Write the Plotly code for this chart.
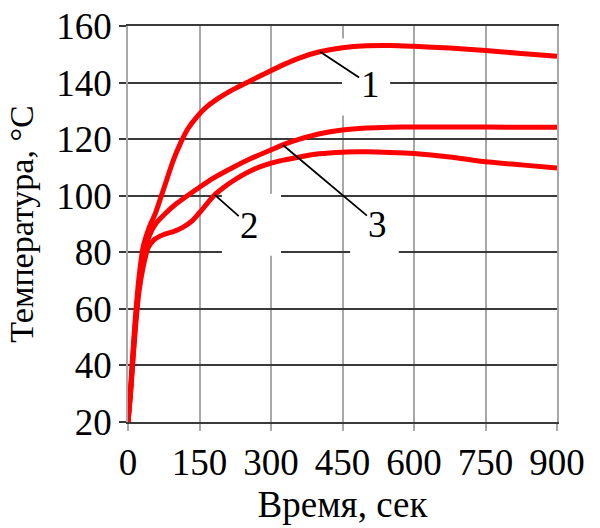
import numpy as np
import plotly.graph_objects as go

# Время, сек / Температура, °С for three heating curves
t_1 = [0, 5, 10, 16, 23, 32, 45, 58, 70, 82, 95, 110, 125, 145, 165, 190, 220, 255,
       290, 330, 365, 400, 450, 500, 550, 600, 675, 750, 825, 900]
temp_1 = [20, 31, 44, 58, 71, 82, 89, 94, 100, 106, 112.5, 118.5, 123.5, 128, 131.4,
          134.5, 137.5, 140.5, 143.4, 146.6, 149.0, 150.8, 152.3, 153.0, 153.1, 152.8,
          152.2, 151.3, 150.3, 149.3]

t_2 = [0, 5, 10, 16, 23, 32, 42, 55, 75, 95, 115, 135, 155, 180, 200, 220, 260, 300,
       330, 360, 400, 450, 500, 550, 600, 675, 750, 825, 900]
temp_2 = [20, 29, 41, 54, 66, 75, 81.5, 84.5, 86.3, 87.3, 88.8, 91.2, 95, 100, 102.8,
          105.2, 109, 111.5, 112.7, 113.7, 114.8, 115.4, 115.5, 115.3, 114.9, 113.7,
          112, 110.9, 109.8]

t_3 = [0, 5, 10, 16, 23, 32, 45, 60, 80, 100, 123, 150, 180, 220, 260, 300, 330, 360,
       400, 450, 500, 550, 600, 700, 800, 900]
temp_3 = [20, 30, 42, 56, 68, 77, 86, 90.5, 94, 97, 99.8, 103, 106.3, 110, 113.3,
          116.2, 118.3, 120, 121.8, 123.2, 123.9, 124.2, 124.3, 124.3, 124.2, 124.2]

x_ticks = [0, 150, 300, 450, 600, 750, 900]
y_ticks = [20, 40, 60, 80, 100, 120, 140, 160]

# curve labels: (text, series, time where the leader touches the curve, offset px)
curve_labels = [
    ("1", (t_1, temp_1), 403, 50, 33),
    ("2", (t_2, temp_2), 182, 35, 31),
    ("3", (t_3, temp_3), 325, 95, 80),
]

FONT = "Liberation Serif"
FS = 37
RED = "#ff0000"
DARK = "#3a3a3a"
GREY = "#a8a8a8"

fig = go.Figure()
for tx, ty in [(t_1, temp_1), (t_3, temp_3), (t_2, temp_2)]:
    fig.add_trace(go.Scatter(
        x=tx, y=ty, mode="lines",
        line=dict(color=RED, width=5, shape="spline", smoothing=0.7),
        showlegend=False, hoverinfo="skip",
    ))

# white patches behind the labels: they hide the grid but stay under the curves
label_boxes = [
    (449, 550, 128.4, 155.6),
    (197, 321, 78.8, 100.7),
    (466, 568, 76.3, 98.3),
]
for x0, x1, y0, y1 in label_boxes:
    fig.add_shape(type="rect", xref="x", yref="y", x0=x0, x1=x1, y0=y0, y1=y1,
                  fillcolor="white", line=dict(width=0), layer="between")

for text, (tx, ty), t_at, dx, dy in curve_labels:
    fig.add_annotation(
        x=t_at, y=float(np.interp(t_at, tx, ty)), xref="x", yref="y",
        text=text, showarrow=True, arrowhead=0, arrowwidth=1.8, arrowcolor="black",
        ax=dx, ay=dy, standoff=0,
        font=dict(family=FONT, size=FS, color="black"),
    )

fig.update_layout(
    width=600, height=528,
    margin=dict(l=128, r=43, t=26, b=106, autoexpand=False),
    paper_bgcolor="white", plot_bgcolor="white",
    font=dict(family=FONT, size=FS, color="black"),
)
fig.update_xaxes(
    range=[0, 900], tickvals=x_ticks, ticktext=[str(v) for v in x_ticks],
    showgrid=True, gridcolor=GREY, gridwidth=1.5,
    showline=True, linecolor=DARK, linewidth=1.5, mirror=True,
    ticks="outside", ticklen=7, tickcolor=GREY, tickwidth=1.5,
    tickfont=dict(family=FONT, size=FS, color="black"),
    zeroline=False, automargin=False,
    title=dict(text="Время, сек", font=dict(family=FONT, size=FS, color="black"),
               standoff=9),
)
fig.update_yaxes(
    range=[20, 160], tickvals=y_ticks, ticktext=[str(v) for v in y_ticks],
    showgrid=True, gridcolor=DARK, gridwidth=1.5,
    showline=True, linecolor=GREY, linewidth=1.5, mirror=True,
    ticks="outside", ticklen=7, tickcolor=DARK, tickwidth=1.5,
    tickfont=dict(family=FONT, size=FS, color="black"),
    zeroline=False, automargin=False,
    title=dict(text="Температура, °С", font=dict(family=FONT, size=34, color="black"),
               standoff=12),
)

fig.write_html("out.html")
